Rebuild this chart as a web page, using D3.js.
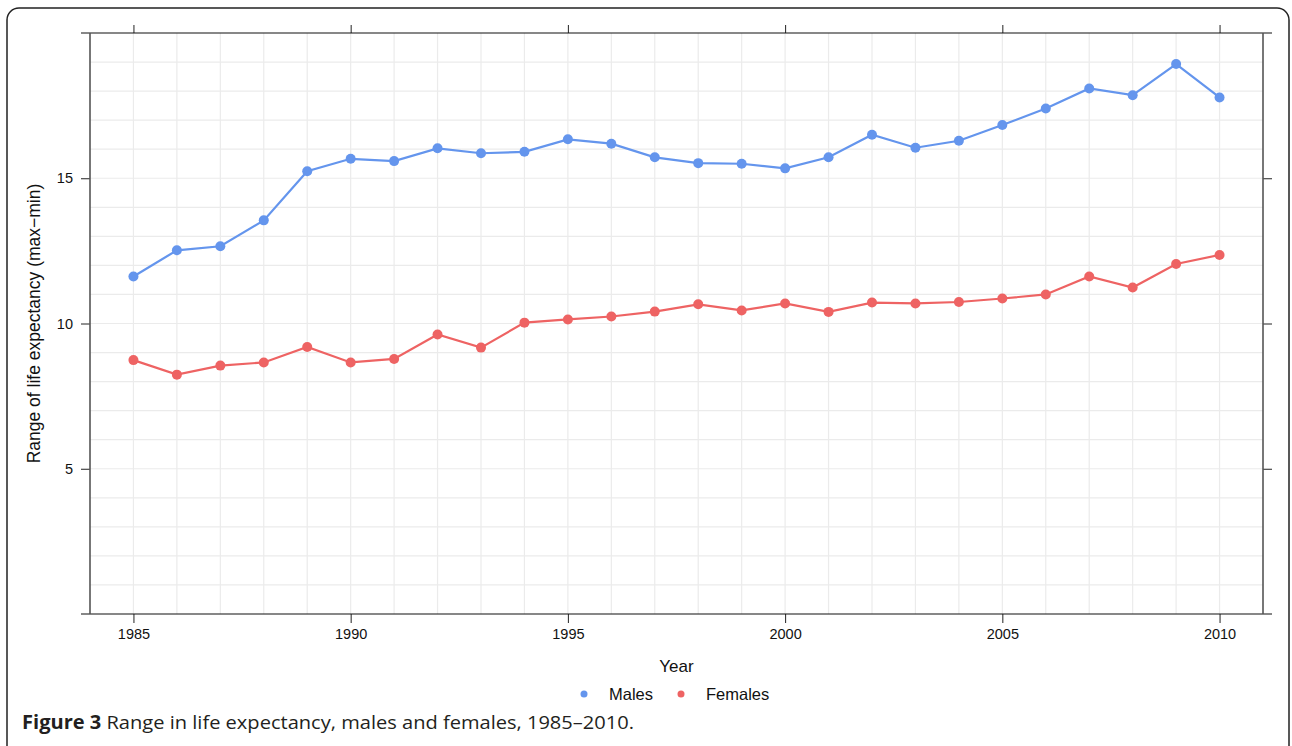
<!DOCTYPE html>
<html>
<head>
<meta charset="utf-8">
<script src="https://cdn.jsdelivr.net/npm/d3@7"></script>
<style>
  body { margin: 0; background: #fff; }
  svg { display: block; }
</style>
</head>
<body>
<script>
// chart data
var years = d3.range(1985, 2011);
var males = [11.62, 12.52, 12.66, 13.55, 15.24, 15.67, 15.59, 16.03, 15.86, 15.91,
             16.34, 16.19, 15.72, 15.52, 15.50, 15.34, 15.72, 16.50, 16.05, 16.29,
             16.83, 17.40, 18.09, 17.86, 18.93, 17.78];
var females = [8.74, 8.24, 8.55, 8.66, 9.19, 8.66, 8.78, 9.62, 9.17, 10.03,
               10.14, 10.24, 10.41, 10.66, 10.45, 10.69, 10.40, 10.72, 10.69, 10.74,
               10.86, 11.00, 11.62, 11.24, 12.05, 12.36];
var xTicks = [1985, 1990, 1995, 2000, 2005, 2010];
var yTicks = [5, 10, 15];
var seriesNames = ["Males", "Females"];
var seriesColors = ["#6495ed", "#ee6363"];

var width = 1292, height = 746;

// panel edges
var pLeft = 90, pRight = 1263, pTop = 33, pBottom = 614;

var x = d3.scaleLinear().domain([1984, 2011]).range([pLeft, pRight]);
var y = d3.scaleLinear().domain([0, 20]).range([pBottom, pTop]);

var svg = d3.select("body").append("svg")
    .attr("width", width)
    .attr("height", height);

// outer rounded frame
svg.append("rect")
    .attr("x", 7).attr("y", 8)
    .attr("width", 1282).attr("height", 750)
    .attr("rx", 12)
    .style("fill", "none")
    .style("stroke", "#222")
    .style("stroke-width", 1.5);

// grid lines - one per year and one per unit
svg.append("g").selectAll("line")
    .data(d3.range(1985, 2011))
    .enter().append("line")
    .attr("x1", function(d) { return x(d); })
    .attr("x2", function(d) { return x(d); })
    .attr("y1", pTop).attr("y2", pBottom)
    .style("stroke", "#ebebeb")
    .style("stroke-width", 1.2);

svg.append("g").selectAll("line")
    .data(d3.range(1, 20))
    .enter().append("line")
    .attr("x1", pLeft).attr("x2", pRight)
    .attr("y1", function(d) { return y(d); })
    .attr("y2", function(d) { return y(d); })
    .style("stroke", "#ebebeb")
    .style("stroke-width", 1.2);

// axes (ticks point outward)
var fontAxis = "'Liberation Sans', Arial, sans-serif";

var bottomAxis = svg.append("g")
    .attr("transform", "translate(0," + pBottom + ")")
    .call(d3.axisBottom(x).tickValues(xTicks).tickFormat(d3.format("d")).tickSize(9).tickPadding(6));
var topAxis = svg.append("g")
    .attr("transform", "translate(0," + pTop + ")")
    .call(d3.axisTop(x).tickValues(xTicks).tickFormat("").tickSize(8));
var leftAxis = svg.append("g")
    .attr("transform", "translate(" + pLeft + ",0)")
    .call(d3.axisLeft(y).tickValues(yTicks).tickSize(9).tickPadding(8));
var rightAxis = svg.append("g")
    .attr("transform", "translate(" + pRight + ",0)")
    .call(d3.axisRight(y).tickValues(yTicks).tickFormat("").tickSize(9));

[bottomAxis, topAxis, leftAxis, rightAxis].forEach(function(g) {
  g.select(".domain").remove();
  g.selectAll(".tick line").style("stroke", "#222");
  g.selectAll("text")
      .style("font-family", fontAxis)
      .style("font-size", "14.5px")
      .style("fill", "#111");
});

// horizontal frame lines run a little past the panel, vertical ones are grey
svg.append("line").attr("x1", 81).attr("x2", 1272).attr("y1", pTop).attr("y2", pTop)
    .style("stroke", "#111").style("stroke-width", 1.2);
svg.append("line").attr("x1", 81).attr("x2", 1272).attr("y1", pBottom).attr("y2", pBottom)
    .style("stroke", "#111").style("stroke-width", 1.2);
svg.append("line").attr("x1", pLeft).attr("x2", pLeft).attr("y1", pTop).attr("y2", pBottom)
    .style("stroke", "#555").style("stroke-width", 1.6);
svg.append("line").attr("x1", pRight).attr("x2", pRight).attr("y1", pTop).attr("y2", pBottom)
    .style("stroke", "#555").style("stroke-width", 1.6);

// series
var series = [males, females];
var line = d3.line()
    .x(function(d, i) { return x(years[i]); })
    .y(function(d) { return y(d); });

series.forEach(function(values, s) {
  svg.append("path")
      .datum(values)
      .attr("d", line)
      .style("fill", "none")
      .style("stroke", seriesColors[s])
      .style("stroke-width", 2.2);

  svg.append("g").selectAll("circle")
      .data(values)
      .enter().append("circle")
      .attr("cx", function(d, i) { return x(years[i]); })
      .attr("cy", function(d) { return y(d); })
      .attr("r", 5)
      .style("fill", seriesColors[s]);
});

// axis titles
svg.append("text")
    .attr("x", (pLeft + pRight) / 2)
    .attr("y", 672)
    .attr("text-anchor", "middle")
    .style("font-family", fontAxis)
    .style("font-size", "17px")
    .style("fill", "#111")
    .text("Year");

svg.append("text")
    .attr("transform", "translate(40," + ((pTop + pBottom) / 2) + ") rotate(-90)")
    .attr("text-anchor", "middle")
    .style("font-family", fontAxis)
    .style("font-size", "17.5px")
    .style("fill", "#111")
    .text("Range of life expectancy (max\u2212min)");

// legend
var legendX = [584, 681];
var legend = svg.append("g").selectAll("g")
    .data(seriesNames)
    .enter().append("g")
    .attr("transform", function(d, i) { return "translate(" + legendX[i] + ",694)"; });

legend.append("circle")
    .attr("r", 3.5)
    .style("fill", function(d, i) { return seriesColors[i]; });

legend.append("text")
    .attr("x", 25)
    .attr("dy", "0.35em")
    .style("font-family", fontAxis)
    .style("font-size", "16.5px")
    .style("fill", "#111")
    .text(function(d) { return d; });

// caption
var caption = svg.append("text")
    .attr("x", 22)
    .attr("y", 729)
    .attr("textLength", 612)
    .attr("lengthAdjust", "spacingAndGlyphs")
    .style("font-family", "'Open Sans', 'Noto Sans', sans-serif")
    .style("font-size", "19px")
    .style("fill", "#231f20");
caption.append("tspan").style("font-weight", "bold").text("Figure 3");
caption.append("tspan").text(" Range in life expectancy, males and females, 1985\u20132010.");
</script>
</body>
</html>
